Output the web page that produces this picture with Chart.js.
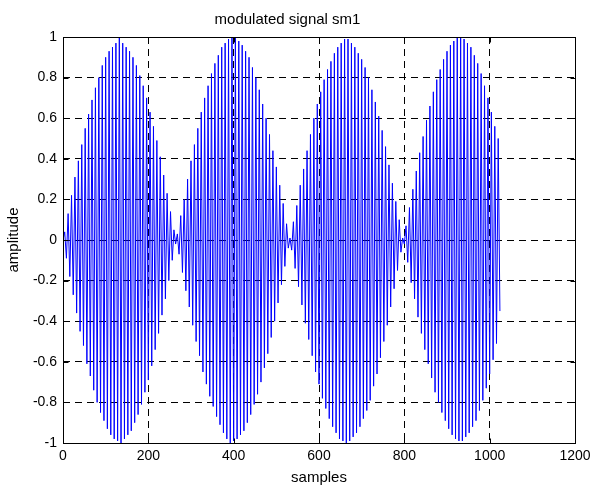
<!DOCTYPE html>
<html>
<head>
<meta charset="utf-8">
<title>modulated signal sm1</title>
<script src="https://cdn.jsdelivr.net/npm/chart.js@4.4.0/dist/chart.umd.min.js"></script>
<style>
    html, body { margin: 0; padding: 0; background: #fff; }
    #myChart { display: block; }
</style>
</head>
<body>
<canvas id="myChart" width="598" height="489"></canvas>
<script>
// carrier peaks, one value every 4 samples, lobe by lobe
const lobe1 = [0, .04, -.09, .13, -.18, .22, -.27, .31, -.36, .39,
    -.45, .47, -.52, .55, -.61, .62, -.67, .69, -.74, .75,
    -.80, .80, -.85, .86, -.89, .90, -.93, .93, -.96, .95,
    -.98, .97, -.99, 1.0, -1.0, .97, -.98, .95, -.96, .93,
    -.94, .90, -.90, .86, -.86, .81, -.81, .76, -.75, .70,
    -.69, .63, -.62, .56, -.54, .49, -.46, .41, -.37, .32,
    -.29, .23, -.20, .14, -.10, .05, -.02];
const lobe2 = [.03, -.07, .12, -.16, .20, -.25, .30, -.33, .39, -.42,
    .47, -.50, .55, -.57, .63, -.65, .70, -.71, .76, -.77,
    .82, -.82, .87, -.87, .91, -.91, .95, -.95, .97, -.98,
    .99, -1.0, 1.0, -.99, 1.0, -.98, .98, -.96, .96, -.94,
    .93, -.90, .90, -.86, .85, -.81, .80, -.76, .74, -.70,
    .67, -.63, .60, -.56, .52, -.48, .44, -.40, .36, -.31,
    .27, -.22, .18, -.13, .08, -.04];
const lobe3 = [.01, -.05, .09, -.14, .17, -.23, .27, -.32, .35, -.41,
    .44, -.49, .52, -.57, .60, -.65, .67, -.71, .73, -.78,
    .79, -.83, .84, -.88, .88, -.92, .92, -.95, .95, -.98,
    .97, -.99, .99, -1.0, .99, -.99, .97, -.97, .95, -.95,
    .92, -.92, .89, -.88, .85, -.84, .80, -.79, .74, -.72,
    .68, -.66, .61, -.58, .54, -.50, .46, -.42, .37, -.33,
    .28, -.24, .19, -.15, .10, -.06, .01];
const lobe4 = [-.02, .07, -.11, .16, -.21, .25, -.29, .34, -.38, .43,
    -.46, .51, -.54, .59, -.61, .66, -.68, .73, -.75, .79,
    -.80, .84, -.85, .89, -.89, .93, -.93, .96, -.96, .98,
    -.98, 1.0, -.99, 1.0, -.99, .99, -.97, .97, -.95, .95,
    -.92, .91, -.89, .87, -.84, .82, -.79, .76, -.73, .70,
    -.66, .63, -.59, .56, -.51, .50, -.35];
const sampleStep = 4;

const xTicks = [0, 200, 400, 600, 800, 1000, 1200];
const yTicks = [-1, -0.8, -0.6, -0.4, -0.2, 0, 0.2, 0.4, 0.6, 0.8, 1];

const signal = lobe1.concat(lobe2, lobe3, lobe4);
const points = signal.map(function (v, i) {
    return { x: i * sampleStep, y: v };
});

// solid box round the axes with short inward ticks on every side
const framePlugin = {
    id: 'frame',
    afterDatasetsDraw: function (chart) {
        const ctx = chart.ctx;
        const a = chart.chartArea;
        const l = Math.round(a.left) + 0.5;
        const r = Math.round(a.right) + 0.5;
        const t = Math.round(a.top) + 0.5;
        const b = Math.round(a.bottom) + 0.5;
        ctx.save();
        ctx.strokeStyle = '#000';
        ctx.lineWidth = 1;
        ctx.strokeRect(l, t, r - l, b - t);
        ctx.beginPath();
        xTicks.forEach(function (v) {
            const x = Math.round(chart.scales.x.getPixelForValue(v)) + 0.5;
            ctx.moveTo(x, b); ctx.lineTo(x, b - 5);
            ctx.moveTo(x, t); ctx.lineTo(x, t + 5);
        });
        yTicks.forEach(function (v) {
            const y = Math.round(chart.scales.y.getPixelForValue(v)) + 0.5;
            ctx.moveTo(l, y); ctx.lineTo(l + 5, y);
            ctx.moveTo(r, y); ctx.lineTo(r - 5, y);
        });
        ctx.stroke();
        ctx.restore();
    }
};

const fontFamily = "'Liberation Sans', Arial, sans-serif";

const config = {
    type: 'line',
    data: {
        datasets: [{
            label: 'sm1',
            data: points,
            borderColor: '#0000ff',
            backgroundColor: '#0000ff',
            borderWidth: 1,
            pointRadius: 0,
            tension: 0,
            fill: false
        }]
    },
    options: {
        responsive: false,
        animation: false,
        layout: {
            padding: { left: 0, right: 23, top: 0, bottom: 0 }
        },
        plugins: {
            legend: { display: false },
            tooltip: { enabled: false },
            title: {
                display: true,
                text: 'modulated signal sm1',
                color: '#000',
                font: { family: fontFamily, size: 15, weight: 'normal' },
                padding: { top: 11, bottom: 8 }
            }
        },
        scales: {
            x: {
                type: 'linear',
                min: 0,
                max: 1200,
                afterBuildTicks: function (axis) {
                    axis.ticks = xTicks.map(function (v) { return { value: v }; });
                },
                afterFit: function (scale) { scale.height = 46; },
                ticks: {
                    autoSkip: false,
                    maxRotation: 0,
                    padding: 5,
                    color: '#000',
                    font: { family: fontFamily, size: 14 },
                    callback: function (value) { return String(value); }
                },
                grid: { color: '#000', lineWidth: 1, drawTicks: false },
                border: { display: false, dash: [7, 5] },
                title: {
                    display: true,
                    text: 'samples',
                    color: '#000',
                    font: { family: fontFamily, size: 15 },
                    padding: { top: 0, bottom: 2 }
                }
            },
            y: {
                type: 'linear',
                min: -1,
                max: 1,
                afterBuildTicks: function (axis) {
                    axis.ticks = yTicks.map(function (v) { return { value: v }; });
                },
                afterFit: function (scale) { scale.width = 63; },
                ticks: {
                    autoSkip: false,
                    padding: 6,
                    color: '#000',
                    font: { family: fontFamily, size: 14 },
                    callback: function (value) { return String(value); }
                },
                grid: { color: '#000', lineWidth: 1, drawTicks: false },
                border: { display: false, dash: [7, 5] },
                title: {
                    display: true,
                    text: 'amplitude',
                    color: '#000',
                    font: { family: fontFamily, size: 15 },
                    padding: { top: 5, bottom: 0 }
                }
            }
        }
    },
    plugins: [framePlugin]
};

const myChart = new Chart(
    document.getElementById('myChart'),
    config
);
</script>
</body>
</html>
